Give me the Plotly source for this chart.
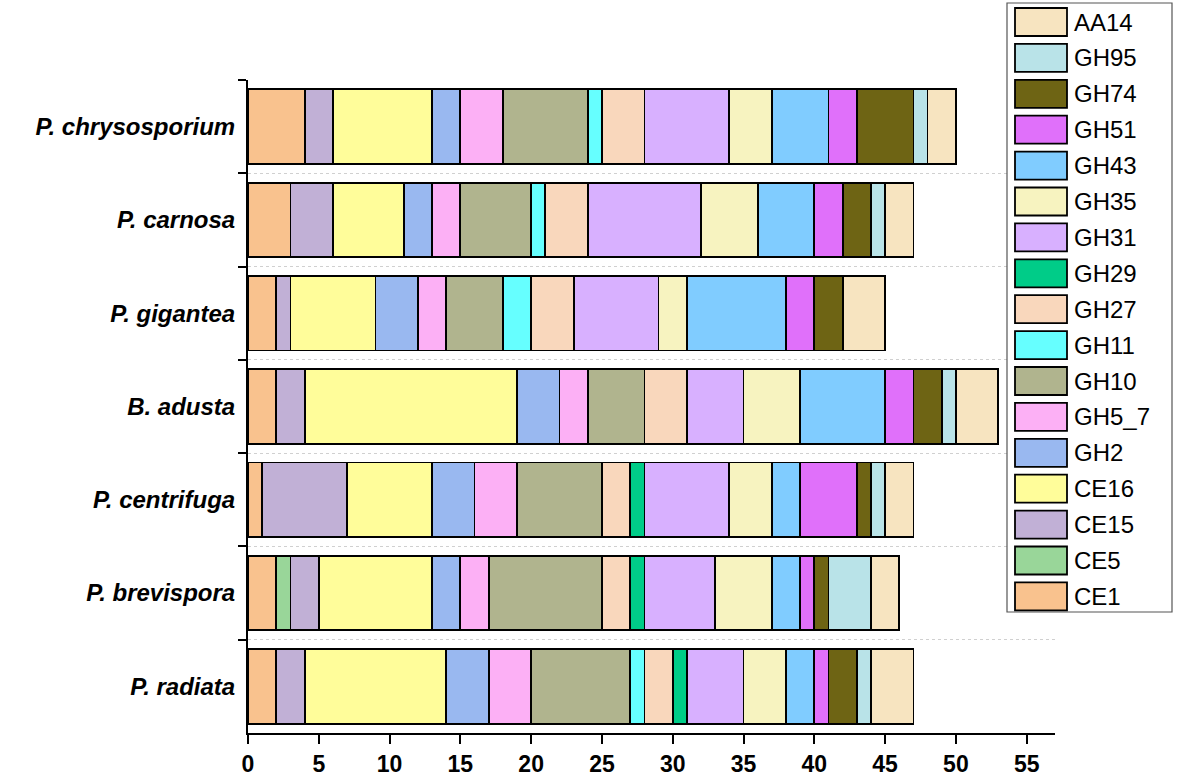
import plotly.graph_objects as go

species = ["P. chrysosporium", "P. carnosa", "P. gigantea", "B. adusta",
           "P. centrifuga", "P. brevispora", "P. radiata"]

families = ["CE1", "CE5", "CE15", "CE16", "GH2", "GH5_7", "GH10", "GH11", "GH27",
            "GH29", "GH31", "GH35", "GH43", "GH51", "GH74", "GH95", "AA14"]

CE1 = [4, 3, 2, 2, 1, 2, 2]
CE5 = [0, 0, 0, 0, 0, 1, 0]
CE15 = [2, 3, 1, 2, 6, 2, 2]
CE16 = [7, 5, 6, 15, 6, 8, 10]
GH2 = [2, 2, 3, 3, 3, 2, 3]
GH5_7 = [3, 2, 2, 2, 3, 2, 3]
GH10 = [6, 5, 4, 4, 6, 8, 7]
GH11 = [1, 1, 2, 0, 0, 0, 1]
GH27 = [3, 3, 3, 3, 2, 2, 2]
GH29 = [0, 0, 0, 0, 1, 1, 1]
GH31 = [6, 8, 6, 4, 6, 5, 4]
GH35 = [3, 4, 2, 4, 3, 4, 3]
GH43 = [4, 4, 7, 6, 2, 2, 2]
GH51 = [2, 2, 2, 2, 4, 1, 1]
GH74 = [4, 2, 2, 2, 1, 1, 2]
GH95 = [1, 1, 0, 1, 1, 3, 1]
AA14 = [2, 2, 3, 3, 2, 2, 3]

values = [CE1, CE5, CE15, CE16, GH2, GH5_7, GH10, GH11, GH27,
          GH29, GH31, GH35, GH43, GH51, GH74, GH95, AA14]

colors = {
    "CE1": "#F9C28E", "CE5": "#99D699", "CE15": "#C1B0D6", "CE16": "#FFFD9A",
    "GH2": "#99B8F0", "GH5_7": "#FCB0F5", "GH10": "#B0B48E", "GH11": "#66FFFF",
    "GH27": "#F9D7BC", "GH29": "#00CC88", "GH31": "#D8B0FF", "GH35": "#F7F3C0",
    "GH43": "#80CCFF", "GH51": "#E070FA", "GH74": "#6E6414", "GH95": "#B9E3E8",
    "AA14": "#F7E4C0",
}

W, H = 1181, 779
L, R, T, B = 248, 1055, 80, 733
FONT = "Liberation Sans, Arial, sans-serif"

fig = go.Figure()
for name, vals in zip(families, values):
    fig.add_trace(go.Bar(
        y=species,
        x=[v if v else None for v in vals],
        name=name,
        orientation="h",
        width=0.8,
        marker={"color": colors[name], "line": {"color": "black", "width": 1.8}},
        showlegend=False,
    ))


def px(x):
    return (x - L) / (R - L)


def py(y):
    return (B - y) / (B - T)


# legend drawn by hand: the reference has big swatches
shapes = [dict(type="rect", xref="paper", yref="paper",
               x0=px(1007), x1=px(1172), y0=py(612), y1=py(3),
               fillcolor="white", line={"color": "#555555", "width": 1.2},
               layer="above")]
annotations = []
for i, name in enumerate(reversed(families)):
    yc = 22 + i * 35.9
    shapes.append(dict(type="rect", xref="paper", yref="paper",
                       x0=px(1015), x1=px(1067), y0=py(yc + 14), y1=py(yc - 14),
                       fillcolor=colors[name], line={"color": "black", "width": 1.8},
                       layer="above"))
    annotations.append(dict(xref="paper", yref="paper", x=px(1072), y=py(yc),
                            text=name, showarrow=False, xanchor="left", yanchor="middle",
                            font={"size": 24, "color": "black", "family": FONT}))

fig.update_layout(
    barmode="stack",
    width=W, height=H,
    plot_bgcolor="white", paper_bgcolor="white",
    margin={"l": L, "r": W - R, "t": T, "b": H - B, "pad": 0},
    shapes=shapes,
    annotations=annotations,
    font={"family": FONT, "color": "black"},
)
fig.update_xaxes(
    range=[0, 57], tickmode="array", tickvals=list(range(0, 56, 5)),
    showline=True, linecolor="black", linewidth=2,
    ticks="outside", ticklen=9, tickwidth=2, tickcolor="black",
    tickfont={"size": 23, "weight": "bold"},
    ticklabelstandoff=0, automargin=False,
    showgrid=False, zeroline=False,
)
fig.update_yaxes(
    categoryorder="array", categoryarray=species, autorange="reversed",
    showline=True, linecolor="black", linewidth=2,
    ticks="outside", ticklen=8, tickwidth=2, tickcolor="black",
    tickson="boundaries", automargin=False,
    showgrid=True, gridcolor="#d0d0d0", griddash="dot", gridwidth=1,
    tickfont={"size": 24, "weight": "bold", "style": "italic"},
    ticklabelstandoff=6,
)

fig.write_html("out.html", config={"displayModeBar": False},
               post_script="document.body.style.margin='0';")
